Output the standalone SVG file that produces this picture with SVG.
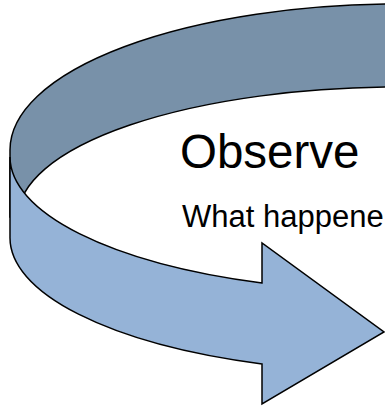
<svg xmlns="http://www.w3.org/2000/svg" width="385" height="406" viewBox="0 0 385 406">
<style>
.band{stroke:#000;stroke-width:1.5;stroke-linejoin:miter}
.back{fill:#7891A9}
.front{fill:#95B3D7}
.t{font-family:"Liberation Sans",Arial,sans-serif;fill:#000}
</style>
<rect width="385" height="406" fill="#fff"/>
<g id="arrow">
<path class="band back" d="M 400,4 A 390 146 0 0 0 10,150 L 10,217 L 18,217 A 382 130 0 0 1 400,87 Z"/>
<path class="band front" d="M 10,157 A 390 135 0 0 0 262,283 L 262,243 L 384,332 L 262,404 L 262,364 A 390 135 0 0 1 10,237 Z"/>
</g>
<g id="label">
<text class="t" x="180" y="167.5" font-size="47.5">Observe</text>
<text class="t" x="182" y="227" font-size="31">What happene</text>
</g>
</svg>
